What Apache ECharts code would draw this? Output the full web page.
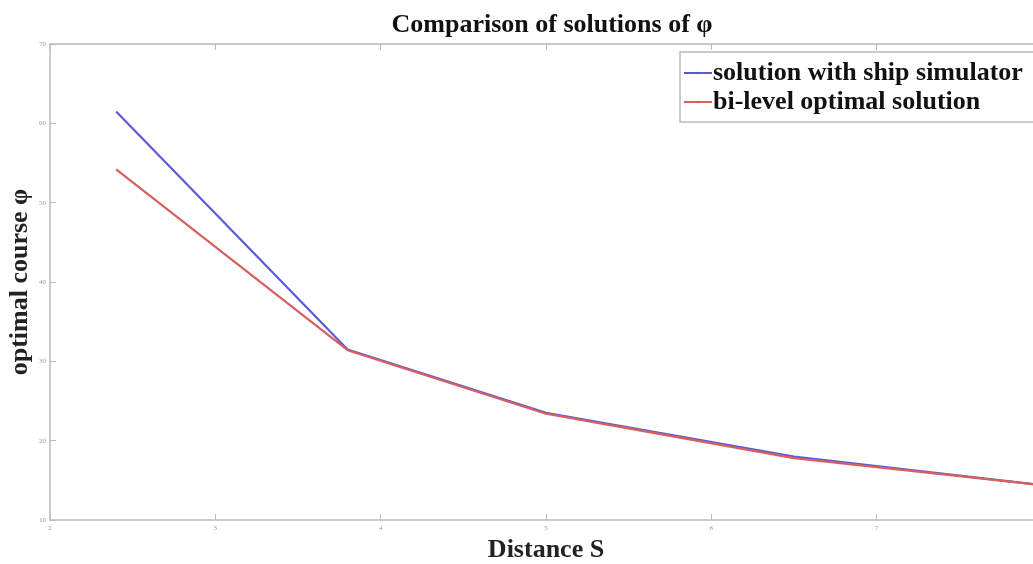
<!DOCTYPE html>
<html>
<head>
<meta charset="utf-8">
<script src="https://cdn.jsdelivr.net/npm/echarts@6/dist/echarts.min.js"></script>
<style>
  html, body { margin: 0; padding: 0; background: #fff; overflow: hidden; }
  /* the original figure is cut off at the right, so the chart is a bit wider than the window */
  #chart { width: 1046px; height: 564px; }
</style>
</head>
<body>
<div id="chart"></div>
<script>
// distance S on the x axis
const distance = [2.4, 3.8, 5.0, 6.5, 8.0];
// optimal course values
const simulatorCourse = [61.5, 31.5, 23.5, 18.0, 14.4];
const bilevelCourse = [54.2, 31.4, 23.4, 17.8, 14.4];
const xTicks = [2, 3, 4, 5, 6, 7, 8];
const yTicks = [10, 20, 30, 40, 50, 60, 70];

const serif = '"Liberation Serif", "Times New Roman", serif';

function pairs(xs, ys) {
  return xs.map((x, i) => [x, ys[i]]);
}

const chart = echarts.init(document.getElementById('chart'));

const tickLabel = { fontSize: 7, color: '#999', fontFamily: serif };
const axisLine = { lineStyle: { color: '#bbb', width: 1.5 } };
const tick = { show: true, inside: true, length: 6, lineStyle: { color: '#bbb' } };

chart.setOption({
  backgroundColor: '#fff',
  animation: false,
  title: {
    text: 'Comparison of solutions of φ',
    left: 547,
    textAlign: 'center',
    top: 7,
    textStyle: { fontFamily: serif, fontWeight: 'bold', fontSize: 26, color: '#111' }
  },
  legend: {
    left: 680,
    top: 52,
    orient: 'vertical',
    itemGap: 3,
    itemWidth: 28,
    itemHeight: 3,
    padding: [8, 40, 7, 3],
    borderColor: '#bbb',
    borderWidth: 1.5,
    backgroundColor: '#fff',
    textStyle: { fontFamily: serif, fontWeight: 'bold', fontSize: 26, color: '#111', padding: [0, 0, 0, -4] },
    data: ['solution with ship simulator', 'bi-level optimal solution']
  },
  grid: { left: 50, right: 4, top: 44, bottom: 44, containLabel: false, outerBoundsMode: 'none' },
  xAxis: [{
    type: 'value',
    min: xTicks[0],
    max: xTicks[xTicks.length - 1],
    interval: 1,
    name: 'Distance S',
    nameLocation: 'middle',
    nameGap: 17,
    nameMoveOverlap: false,
    nameTextStyle: { fontFamily: serif, fontWeight: 'bold', fontSize: 26, color: '#222' },
    axisLine: axisLine,
    axisTick: tick,
    axisLabel: Object.assign({ margin: 5 }, tickLabel),
    splitLine: { show: false }
  }, {
    type: 'value',
    position: 'top',
    min: xTicks[0],
    max: xTicks[xTicks.length - 1],
    interval: 1,
    axisLine: axisLine,
    axisTick: tick,
    axisLabel: { show: false },
    splitLine: { show: false }
  }],
  yAxis: [{
    type: 'value',
    min: yTicks[0],
    max: yTicks[yTicks.length - 1],
    interval: 10,
    name: 'optimal course φ',
    nameLocation: 'middle',
    nameGap: 17,
    nameMoveOverlap: false,
    nameTextStyle: { fontFamily: serif, fontWeight: 'bold', fontSize: 26, color: '#222' },
    axisLine: Object.assign({ show: true }, axisLine),
    axisTick: tick,
    axisLabel: Object.assign({ margin: 4 }, tickLabel),
    splitLine: { show: false }
  }, {
    type: 'value',
    position: 'right',
    min: yTicks[0],
    max: yTicks[yTicks.length - 1],
    interval: 10,
    axisLine: Object.assign({ show: true }, axisLine),
    axisTick: tick,
    axisLabel: { show: false },
    splitLine: { show: false }
  }],
  series: [
    {
      name: 'solution with ship simulator',
      type: 'line',
      symbol: 'none',
      data: pairs(distance, simulatorCourse),
      lineStyle: { color: '#5b5bd6', width: 2.2 },
      itemStyle: { color: '#5b5bd6' }
    },
    {
      name: 'bi-level optimal solution',
      type: 'line',
      symbol: 'none',
      data: pairs(distance, bilevelCourse),
      lineStyle: { color: '#d95f5f', width: 2.2 },
      itemStyle: { color: '#d95f5f' }
    }
  ]
});
</script>
</body>
</html>
